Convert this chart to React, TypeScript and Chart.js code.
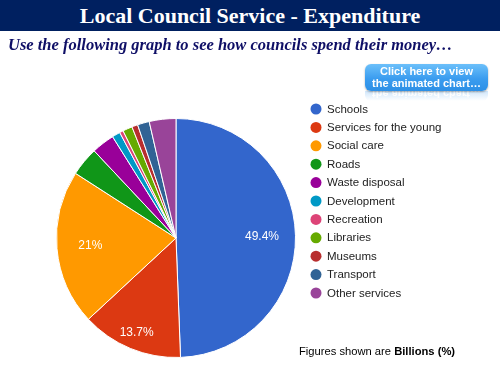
import React, { useEffect, useRef } from "react";
import { Chart, registerables } from "chart.js";

Chart.register(...registerables);

const categories = [
  "Schools",
  "Services for the young",
  "Social care",
  "Roads",
  "Waste disposal",
  "Development",
  "Recreation",
  "Libraries",
  "Museums",
  "Transport",
  "Other services",
];
const values = [49.4, 13.7, 21, 3.9, 3.1, 1.1, 0.5, 1.3, 0.8, 1.6, 3.6];
const sliceColors = [
  "#3366cc",
  "#dc3912",
  "#ff9900",
  "#109618",
  "#990099",
  "#0099c6",
  "#dd4477",
  "#66aa00",
  "#b82e2e",
  "#316395",
  "#994499",
];
const labelThreshold = 10;

const sliceLabelPlugin = {
  id: "sliceLabels",
  afterDatasetsDraw(chart: any) {
    const ctx = chart.ctx;
    const meta = chart.getDatasetMeta(0);
    ctx.save();
    ctx.fillStyle = "#ffffff";
    ctx.font = "12px Arial, 'Liberation Sans', sans-serif";
    ctx.textAlign = "center";
    ctx.textBaseline = "middle";
    meta.data.forEach((arc: any, i: number) => {
      const v = values[i];
      if (v < labelThreshold) return;
      const p = arc.getProps(["x", "y", "startAngle", "endAngle", "outerRadius"], true);
      const mid = (p.startAngle + p.endAngle) / 2;
      const span = p.endAngle - p.startAngle;
      const rr = p.outerRadius * (span < Math.PI / 3 ? 0.86 : 0.72);
      ctx.fillText(v + "%", p.x + Math.cos(mid) * rr, p.y + Math.sin(mid) * rr);
    });
    ctx.restore();
  },
};

const legendPlugin = {
  id: "sideLegend",
  afterDraw(chart: any) {
    const ctx = chart.ctx;
    ctx.save();
    ctx.font = "11.5px Arial, 'Liberation Sans', sans-serif";
    ctx.textAlign = "left";
    ctx.textBaseline = "middle";
    categories.forEach((c, i) => {
      const y = 109 + i * 18.4;
      ctx.fillStyle = sliceColors[i];
      ctx.beginPath();
      ctx.arc(316, y, 5.5, 0, Math.PI * 2);
      ctx.fill();
      ctx.fillStyle = "#222222";
      ctx.fillText(c, 327, y + 0.5);
    });
    ctx.restore();
  },
};

function PieChart() {
  const ref = useRef<HTMLCanvasElement | null>(null);
  useEffect(() => {
    if (!ref.current) return;
    const chart = new Chart(ref.current, {
      type: "pie",
      data: {
        labels: categories,
        datasets: [
          {
            data: values,
            backgroundColor: sliceColors,
            borderColor: "#ffffff",
            borderWidth: 1,
          },
        ],
      },
      options: {
        responsive: false,
        animation: false,
        devicePixelRatio: 1,
        layout: { padding: { left: 56, right: 204, top: 118, bottom: 17 } },
        plugins: {
          legend: { display: false },
          tooltip: { enabled: false },
        },
      },
      plugins: [sliceLabelPlugin, legendPlugin],
    });
    return () => chart.destroy();
  }, []);
  return (
    <canvas
      ref={ref}
      width={500}
      height={375}
      style={{ position: "absolute", left: 0, top: 0, width: 500, height: 375 }}
    />
  );
}

export default function App() {
  return (
    <div
      style={{
        position: "absolute",
        left: 0,
        top: 0,
        width: 500,
        height: 375,
        background: "#ffffff",
        overflow: "hidden",
      }}
    >
      <PieChart />
      <div
        style={{
          position: "absolute",
          left: 0,
          top: 0,
          width: 500,
          height: 31,
          background: "#002060",
          color: "#ffffff",
          fontFamily: "'Liberation Serif', 'Times New Roman', serif",
          fontWeight: "bold",
          fontSize: 22,
          lineHeight: "31px",
          textAlign: "center",
        }}
      >
        Local Council Service - Expenditure
      </div>
      <div
        style={{
          position: "absolute",
          left: 8,
          top: 35,
          whiteSpace: "nowrap",
          color: "#0f0f66",
          fontFamily: "'Liberation Serif', 'Times New Roman', serif",
          fontWeight: "bold",
          fontStyle: "italic",
          fontSize: 16.5,
          lineHeight: "20px",
        }}
      >
        Use the following graph to see how councils spend their money…
      </div>
      <div
        style={{
          position: "absolute",
          left: 365,
          top: 91,
          width: 123,
          height: 10,
          overflow: "hidden",
          background: "linear-gradient(rgba(120,185,245,0.35), rgba(255,255,255,0))",
          borderRadius: "0 0 6px 6px",
        }}
      >
        <div
          style={{
            transform: "scaleY(-1)",
            color: "rgba(255,255,255,0.95)",
            fontFamily: "Arial, 'Liberation Sans', sans-serif",
            fontWeight: "bold",
            fontSize: 11,
            lineHeight: "12px",
            textAlign: "center",
            marginTop: -3,
          }}
        >
          the animated chart…
        </div>
      </div>
      <div
        style={{
          position: "absolute",
          left: 365,
          top: 64,
          width: 123,
          height: 27,
          borderRadius: 6,
          background: "linear-gradient(#6cc0fa, #3a9cef 55%, #2c8fe6)",
          boxShadow: "0 1px 2px rgba(0,0,0,0.35)",
          color: "#ffffff",
          fontFamily: "Arial, 'Liberation Sans', sans-serif",
          fontWeight: "bold",
          fontSize: 11,
          lineHeight: "12px",
          textAlign: "center",
          paddingTop: 1,
          boxSizing: "border-box",
        }}
      >
        Click here to view
        <br />
        the animated chart…
      </div>
      <div
        style={{
          position: "absolute",
          left: 299,
          top: 344,
          whiteSpace: "nowrap",
          color: "#000000",
          fontFamily: "Arial, 'Liberation Sans', sans-serif",
          fontSize: 11.2,
          lineHeight: "15px",
        }}
      >
        Figures shown are <b>Billions (%)</b>
      </div>
    </div>
  );
}
